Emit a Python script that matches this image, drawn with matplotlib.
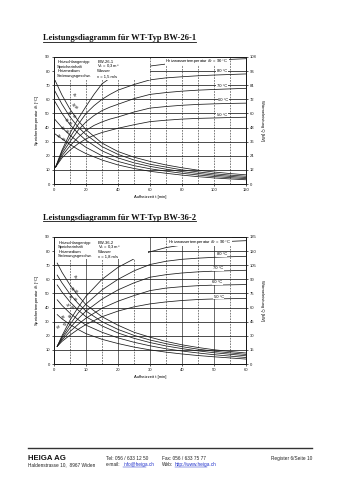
import matplotlib
matplotlib.use('Agg')
import matplotlib.pyplot as plt
from matplotlib.patches import Rectangle
from matplotlib.lines import Line2D

# ---------------- data (read from the scanned page) ----------------
titles = ["Leistungsdiagramm für WT-Typ BW-26-1", "Leistungsdiagramm für WT-Typ BW-36-2"]
temps = ["90", "80", "70", "60", "50"]

# top chart (BW-26-1): time 0..120 min
top_t_rise = [1, 5, 10, 15, 20, 25, 30, 35, 40, 50, 60, 70, 80, 90, 100, 110, 120]
top_rise_90 = [12, 24, 36, 46, 55, 63.5, 71, 75, 77.5, 81, 83.6, 85, 86, 87, 87.7, 88.3, 88.8]
top_rise_80 = [12, 23, 33, 42, 50, 55.5, 60, 63.5, 66.5, 70.5, 73.8, 75.2, 76, 76.7, 77.2, 77.6, 78]
top_rise_70 = [12, 21.5, 30, 38, 44, 48.5, 52, 54.5, 56.5, 60.5, 63.5, 64.8, 65.8, 66.5, 67, 67.4, 67.8]
top_rise_60 = [12, 20, 27, 33, 38, 41.5, 44, 46, 47.5, 51, 53.8, 54.9, 55.8, 56.4, 56.8, 57.1, 57.3]
top_rise_50 = [12, 18.5, 24, 28.5, 32, 34.5, 36.5, 38, 39.5, 42, 44.2, 45.2, 46, 46.5, 46.8, 47.1, 47.3]

top_t_fall = [0, 5, 10, 15, 20, 30, 40, 50, 60, 70, 80, 90, 100, 110, 120]
top_fall_90 = [75, 63, 53, 45, 38.5, 29, 23, 19, 16, 13.5, 11.5, 9.8, 8.5, 7.4, 6.5]
top_fall_80 = [67, 56.5, 47.5, 40.5, 35, 26.5, 21, 17, 14, 12, 10, 8.6, 7.3, 6.3, 5.5]
top_fall_70 = [59.5, 50, 42, 36, 31, 23.5, 18.5, 15, 12.5, 10.5, 8.8, 7.5, 6.3, 5.4, 4.6]
top_fall_60 = [46.5, 40, 34.5, 30, 26, 20, 16, 13, 10.8, 9.1, 7.6, 6.4, 5.3, 4.5, 3.8]
top_fall_50 = [36, 32, 28, 24.5, 21.5, 17, 13.5, 11, 9, 7.6, 6.3, 5.2, 4.3, 3.6, 3.0]

# bottom chart (BW-36-2): time 0..60 min
bot_t = [1, 2.5, 5, 7.5, 10, 15, 20, 25, 30, 35, 40, 45, 50, 55, 60]
bot_rise_90 = [12.5, 20, 31, 40, 48, 60, 68.5, 74.5, 79.5, 82.5, 84.3, 85.5, 86.3, 86.9, 87.4]
bot_rise_80 = [12.5, 19, 28, 36, 42.5, 52.5, 60, 66, 70.5, 72.8, 74.2, 75, 75.6, 76, 76.3]
bot_rise_70 = [12.5, 18, 25.5, 32, 37.5, 46, 52.5, 57.5, 61.5, 63.3, 64.5, 65.3, 65.8, 66.1, 66.4]
bot_rise_60 = [12.5, 17, 23, 28, 32.5, 39.5, 44.5, 48.5, 52, 53.8, 54.8, 55.5, 55.9, 56.1, 56.3]
bot_rise_50 = [12.5, 16, 20.5, 24.5, 28, 33.5, 37.5, 40.5, 42.6, 44, 45, 45.7, 46.1, 46.3, 46.4]

bot_fall_90 = [71.5, 65, 56, 48.5, 42, 33.5, 27.5, 22.5, 19, 16, 13.6, 11.7, 10.1, 8.9, 7.8]
bot_fall_80 = [63, 57.5, 49.5, 43, 37.5, 30, 24.5, 20.3, 17, 14.4, 12.3, 10.5, 9.1, 7.9, 6.8]
bot_fall_70 = [56, 51, 44, 38.3, 33.5, 27, 22, 18.2, 15.2, 12.8, 10.9, 9.3, 8, 6.9, 5.8]
bot_fall_60 = [45.5, 41.5, 36, 31.5, 27.5, 22.5, 18.5, 15.4, 12.9, 10.8, 9.2, 7.8, 6.6, 5.6, 4.6]
bot_fall_50 = [35, 32, 28, 24.5, 21.5, 17.5, 14.5, 12, 10, 8.4, 7.1, 6, 5.1, 4.3, 3.5]

top_legend = ["Heizschlangentyp", "Speicherinhalt", "Heizmedium", "Strömungsgeschw."]
top_legend_val = ["BW-26-1", r"V$_\mathregular{s}$ = 0,3 m³", "Wasser", "v = 1,5 m/s"]
bot_legend_val = ["BW-36-2", r"V$_\mathregular{s}$ = 0,3 m³", "Wasser", "v = 1,8 m/s"]

# ---------------- figure ----------------
W, H = 339, 480
fig = plt.figure(figsize=(W / 100, H / 100), dpi=100)
fig.patch.set_facecolor('white')
SANS = ['Liberation Sans', 'DejaVu Sans']
FS = 3.0
INK = '#1a1a1a'


def px_axes(x0, y0, x1, y1):
    return fig.add_axes([x0 / W, 1 - y1 / H, (x1 - x0) / W, (y1 - y0) / H])


def draw_chart(ax, xmax, xstep_lab, vgrid_solid, vgrid_dash, rmax, rstep,
               t_rise, rises, t_fall, falls, legend_vals, leg_box, leg_cols, leg_rows,
               rise_labels, fall_labels):
    ax.set_xlim(0, xmax)
    ax.set_ylim(0, 90)
    for v in range(10, 90, 10):
        ax.axhline(v, color=INK, lw=0.55, zorder=1)
    for v in vgrid_solid:
        ax.axvline(v, color=INK, lw=0.45, zorder=1)
    for v in vgrid_dash:
        ax.axvline(v, color=INK, lw=0.4, ls=(0, (3, 2)), zorder=1)
    for ys in rises:
        ax.plot(t_rise, ys, color=INK, lw=0.55, zorder=2)
    for ys in falls:
        ax.plot(t_fall, ys, color=INK, lw=0.55, zorder=2)
    # legend block (white background)
    ax.add_patch(Rectangle((leg_box[0], leg_box[1]), leg_box[2], leg_box[3],
                           facecolor='white', edgecolor='none', zorder=3))
    for i, (k, v) in enumerate(zip(top_legend, legend_vals)):
        ax.text(leg_cols[0], leg_rows[i], k, fontsize=FS, family=SANS, va='center', zorder=4)
        ax.text(leg_cols[1], leg_rows[i], v, fontsize=FS, family=SANS, va='center', zorder=4)
    for (x, y, s) in rise_labels:
        ax.text(x, y, s, fontsize=FS, family=SANS, ha='center', va='center', zorder=4,
                bbox=dict(facecolor='white', edgecolor='none', pad=0.4))
    for (x, y, s, r) in fall_labels:
        ax.text(x, y, s, fontsize=2.6, family=SANS, ha='center', va='center',
                rotation=r, zorder=4)
    ax.set_xticks(range(0, xmax + 1, xstep_lab))
    ax.set_yticks(range(0, 91, 10))
    ax.tick_params(labelsize=FS, length=1.5, width=0.5, pad=1.5, colors=INK)
    for lab in ax.get_xticklabels() + ax.get_yticklabels():
        lab.set_family(SANS)
    for s in ax.spines.values():
        s.set_linewidth(0.7)
        s.set_color(INK)
    ax.set_xlabel("Aufheizzeit t [min]", fontsize=FS, family=SANS, labelpad=2)
    ax.set_ylabel(r"Speichertemperatur $\vartheta_\mathregular{s}$ [°C]", fontsize=FS,
                  family=SANS, labelpad=3)
    ax2 = ax.twinx()
    ax2.set_ylim(0, rmax)
    ax2.set_yticks(range(0, rmax + 1, rstep))
    ax2.tick_params(labelsize=FS, length=1.5, width=0.5, pad=1.5, colors=INK)
    for lab in ax2.get_yticklabels():
        lab.set_family(SANS)
    for s in ax2.spines.values():
        s.set_linewidth(0.7)
        s.set_color(INK)
    ax2.set_ylabel("Wärmeleistung Q [kW]", fontsize=FS, family=SANS, rotation=270,
                   labelpad=5)


ax_top = px_axes(54, 57, 246, 184)
draw_chart(ax_top, 120, 20, [], list(range(10, 120, 10)), 108, 12,
           top_t_rise, [top_rise_90, top_rise_80, top_rise_70, top_rise_60, top_rise_50],
           top_t_fall, [top_fall_90, top_fall_80, top_fall_70, top_fall_60, top_fall_50],
           top_legend_val, (0.3, 73.5, 59.7, 16.2), (2, 27), [86.3, 83.1, 80.0, 76.4],
           [(89.5, 87.4, r"Heizwassertemperatur $\vartheta_\mathregular{v}$ = 90 °C"),
            (105, 79.8, "80 °C"), (105, 69.7, "70 °C"), (106, 59.6, "60 °C"),
            (105, 49.2, "50 °C")],
           [(12.5, 63, r"$\vartheta_\mathregular{v}$", -55), (11.5, 56, "90", -60),
            (9.5, 50.5, "80", -60), (7.3, 45, "70", -60), (5, 39.5, "60", -60),
            (2.5, 33.5, "50", -60),
            (15, 54.5, "90", 60), (13.5, 48.5, "80", 60), (11.5, 43.5, "70", 60),
            (9.5, 38, "60", 60), (7, 32, "50", 60)])

ax_bot = px_axes(54, 237, 246, 364)
draw_chart(ax_bot, 60, 10, list(range(10, 60, 10)), list(range(5, 60, 10)), 135, 15,
           bot_t, [bot_rise_90, bot_rise_80, bot_rise_70, bot_rise_60, bot_rise_50],
           bot_t, [bot_fall_90, bot_fall_80, bot_fall_70, bot_fall_60, bot_fall_50],
           bot_legend_val, (0.2, 74.5, 29.3, 15.3), (1.3, 13.6), [85.7, 82.6, 79.6, 76.3],
           [(45.4, 86.6, r"Heizwassertemperatur $\vartheta_\mathregular{v}$ = 90 °C"),
            (52.4, 77.8, "80 °C"), (51.3, 67.8, "70 °C"), (51, 57.8, "60 °C"),
            (51.5, 47.8, "50 °C")],
           [(6.6, 61.5, r"$\vartheta_\mathregular{v}$", -55), (5.5, 53, "90", -60),
            (4.8, 47.5, "80", -60), (4, 41.5, "70", -60), (2.4, 33, "60", -60),
            (1.0, 26, "50", -60),
            (7.6, 52, "90", 60), (7.1, 46, "80", 60), (6.3, 40.5, "70", 60),
            (5.2, 34.5, "60", 60), (3.8, 28.5, "50", 60)])

# ---------------- titles ----------------
SERIF = ['Liberation Serif', 'DejaVu Serif']
for ttl, ybase in zip(titles, [40.5, 219.5]):
    t = fig.text(43 / W, 1 - ybase / H, ttl, fontsize=6.1, fontweight='bold',
                 family=SERIF, ha='left', va='baseline', color='#111111')
    fig.canvas.draw()
    bb = t.get_window_extent()
    fig.add_artist(Line2D([43 / W, (43 + bb.width) / W],
                          [1 - (ybase + 1.6) / H] * 2, color='#111111', lw=0.6))

# ---------------- footer ----------------
fig.add_artist(Line2D([28 / W, 312 / W], [1 - 447.8 / H] * 2, color='#333333', lw=1.0))
fig.text(28 / W, 1 - 460.5 / H, "HEIGA AG", fontsize=5.6, fontweight='bold',
         family=SANS, va='baseline', color='#111111')
FF = 3.4
row1, row2 = 460, 466
fig.text(28 / W, 1 - row2 / H, "Haldenstrasse 10,  8967 Widen", fontsize=FF, family=SANS,
         va='baseline', color='#222222')
fig.text(106 / W, 1 - row1 / H, "Tel: 056 / 633 12 50", fontsize=FF, family=SANS,
         va='baseline', color='#222222')
fig.text(106 / W, 1 - row2 / H, "e-mail:", fontsize=FF, family=SANS, va='baseline',
         color='#222222')
fig.text(123.5 / W, 1 - row2 / H, "info@heiga.ch", fontsize=FF, family=SANS, va='baseline',
         color='#2233cc')
fig.add_artist(Line2D([123.5 / W, 146 / W], [1 - (row2 + 0.8) / H] * 2, color='#2233cc', lw=0.35))
fig.text(162 / W, 1 - row1 / H, "Fax: 056 / 633 75 77", fontsize=FF, family=SANS,
         va='baseline', color='#222222')
fig.text(162 / W, 1 - row2 / H, "Web:", fontsize=FF, family=SANS, va='baseline',
         color='#222222')
fig.text(175 / W, 1 - row2 / H, "http://www.heiga.ch", fontsize=FF, family=SANS,
         va='baseline', color='#2233cc')
fig.add_artist(Line2D([175 / W, 207 / W], [1 - (row2 + 0.8) / H] * 2, color='#2233cc', lw=0.35))
fig.text(312 / W, 1 - row1 / H, "Register 6/Seite 10", fontsize=FF, family=SANS,
         va='baseline', ha='right', color='#222222')

fig.savefig('out.png', dpi=100, facecolor='white')
